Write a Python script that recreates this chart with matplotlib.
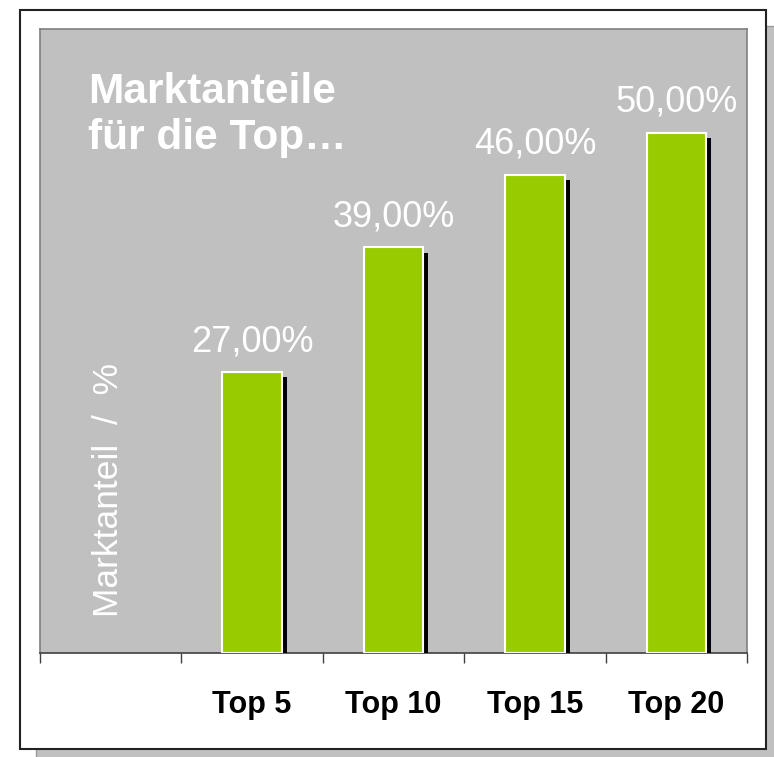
import matplotlib
matplotlib.use("Agg")
import matplotlib.pyplot as plt
import matplotlib.patches as mpatches
import matplotlib.patheffects as pe
import numpy as np

plt.rcParams['font.family'] = ['Liberation Sans', 'DejaVu Sans']

categories = ["", "Top 5", "Top 10", "Top 15", "Top 20"]
values = [None, 27, 39, 46, 50]
value_labels = ["", "27,00%", "39,00%", "46,00%", "50,00%"]
title_text = "Marktanteile\nfür die Top…"
ylabel_text = "Marktanteil  /  %"

W, H = 774, 757
fig = plt.figure(figsize=(W / 100, H / 100), dpi=100, facecolor="white")

def fx(px):
    return px / W

def fy(py):
    return 1 - py / H

shadow = mpatches.Rectangle((fx(20 + 16), fy(749 + 16)), fx(746), 739 / H,
                            transform=fig.transFigure, facecolor="#c0c0c0",
                            edgecolor="#9a9a9a", linewidth=1.0, zorder=0)
frame = mpatches.Rectangle((fx(20), fy(749)), fx(746), 739 / H,
                           transform=fig.transFigure, facecolor="white",
                           edgecolor="#222222", linewidth=1.5, zorder=1)
fig.patches.extend([shadow, frame])

ax = fig.add_axes([fx(40), fy(653), fx(707), 624 / H])
ax.set_zorder(2)
ax.set_facecolor("#c0c0c0")

x = np.arange(len(categories))
for xi, v, lab in zip(x, values, value_labels):
    if v is None:
        continue
    b = ax.bar(xi, v, width=0.42, color="#99cc00", edgecolor="white",
               linewidth=1.5, zorder=3)
    for p in b.patches:
        p.set_path_effects([pe.SimplePatchShadow(offset=(3.8, -3.8),
                                                 shadow_rgbFace="black",
                                                 alpha=1.0),
                            pe.Normal()])
    ax.annotate(lab, (xi, v), xytext=(0, 9.5), textcoords="offset points",
                ha="center", va="bottom", color="white", fontsize=26,
                zorder=4)

ax.set_xlim(-0.5, len(categories) - 0.5)
ax.set_ylim(0, 60)
ax.set_yticks([])

ax.set_xticks(x)
ax.set_xticklabels(categories, fontsize=22, fontweight="bold", color="black")
ax.tick_params(axis="x", which="major", length=0, pad=27)
ax.set_xticks(np.arange(-0.5, len(categories), 1.0), minor=True)
ax.tick_params(axis="x", which="minor", length=7.2, width=1.0,
               color="#404040", direction="out")

for s in ["left", "top", "right"]:
    ax.spines[s].set_color("#808080")
    ax.spines[s].set_linewidth(1.2)
ax.spines["bottom"].set_color("#404040")
ax.spines["bottom"].set_linewidth(1.2)

ax.text(0.068, 0.931, title_text, transform=ax.transAxes, ha="left",
        va="top", fontsize=30.5, fontweight="bold", color="white",
        linespacing=1.18, zorder=5)

ax.text(0.097, 0.262, ylabel_text, transform=ax.transAxes, rotation=90,
        ha="center", va="center", fontsize=25.5, color="white", zorder=5)

fig.savefig("out.png", dpi=100, facecolor="white")
